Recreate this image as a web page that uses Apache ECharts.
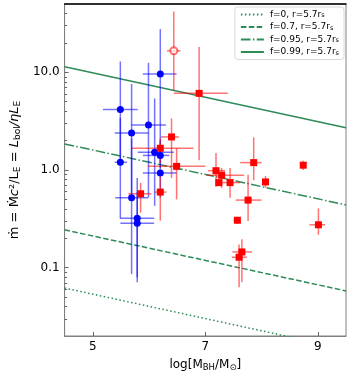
<!DOCTYPE html>
<html>
<head>
<meta charset="utf-8">
<script src="https://cdn.jsdelivr.net/npm/echarts@6/dist/echarts.min.js"></script>
<style>
  html, body { margin: 0; padding: 0; background: #fff; }
  #chart { width: 351px; height: 377px; }
</style>
</head>
<body>
<div id="chart"></div>
<script>
// axis ticks
const xTicks = [5, 7, 9]
const yTicks = [0.1, 1, 10]
const yMinorTicks = [0.03, 0.04, 0.05, 0.06, 0.07, 0.08, 0.09,
  0.2, 0.3, 0.4, 0.5, 0.6, 0.7, 0.8, 0.9,
  2, 3, 4, 5, 6, 7, 8, 9, 20, 30, 40]

// model lines (endpoints at log M = 4.5 and 9.5)
const lineX = [4.5, 9.5]
const lineF0 = [0.0619, 0.0147]
const lineF07 = [0.244, 0.0579]
const lineF095 = [1.85, 0.439]
const lineF099 = [11.38, 2.70]

// blue circles
const blueX = [5.49, 5.69, 5.99, 6.20, 6.10, 6.20, 5.49, 6.20, 5.69, 5.79, 5.79]
const blueY = [4.16, 2.39, 2.88, 9.59, 1.52, 1.41, 1.20, 0.93, 0.52, 0.32, 0.285]
const blueXlo = [5.18, 5.39, 5.69, 5.89, 5.80, 5.89, 5.39, 5.89, 5.40, 5.49, 5.49]
const blueXhi = [5.80, 5.99, 6.30, 6.49, 6.44, 6.36, 5.61, 6.49, 5.98, 6.09, 6.09]
const blueYlo = [1.21, 0.52, 0.52, 1.32, 0.43, 1.05, 0.318, 0.52, 0.086, 0.08, 0.071]
const blueYhi = [12.9, 7.6, 12.5, 27.7, 5.4, 2.0, 3.4, 1.6, 2.1, 0.83, 0.6]

// red squares
const redX = [6.89, 6.40, 6.20, 6.49, 5.85, 6.20, 7.19, 7.29, 7.24, 7.44, 7.86, 8.07, 7.76, 7.57, 8.74, 9.01, 7.65, 7.60]
const redY = [6.09, 2.18, 1.67, 1.09, 0.571, 0.594, 0.984, 0.884, 0.743, 0.743, 1.19, 0.755, 0.492, 0.306, 1.12, 0.275, 0.145, 0.128]
const redXlo = [6.44, 6.21, 5.69, 5.98, 5.63, 6.10, 7.05, 7.02, 7.18, 7.22, 7.62, 8.03, 7.54, 7.50, 8.70, 8.85, 7.48, 7.47]
const redXhi = [7.40, 6.53, 6.79, 7.00, 6.04, 6.31, 7.35, 7.69, 7.30, 7.62, 8.00, 8.11, 8.00, 7.62, 8.78, 9.13, 7.83, 7.74]
const redYlo = [1.26, 0.83, 1.18, 0.50, 0.366, 0.303, 0.672, 0.656, 0.70, 0.52, 0.786, 0.66, 0.301, 0.28, 1.0, 0.217, 0.071, 0.063]
const redYhi = [18.1, 3.37, 2.11, 1.67, 0.74, 0.85, 1.49, 1.05, 0.80, 1.05, 2.16, 0.87, 0.896, 0.33, 1.24, 0.405, 0.195, 0.173]

// red open circle
const openX = [6.44]
const openY = [16.6]
const openXlo = [6.32]
const openXhi = [6.56]
const openYlo = [6.5]
const openYhi = [42]

const green = '#2e8b57'
const font = 'DejaVu Sans'

const rows = (x, y, xlo, xhi, ylo, yhi) => x.map((v, i) => [v, y[i], xlo[i], xhi[i], ylo[i], yhi[i]])
const pts = (x, y) => x.map((v, i) => [v, y[i]])

const errBars = (color) => (params, api) => {
  const x = api.value(0)
  const y = api.value(1)
  const a = api.coord([api.value(2), y])
  const b = api.coord([api.value(3), y])
  const c = api.coord([x, api.value(4)])
  const d = api.coord([x, api.value(5)])
  const style = { stroke: color, lineWidth: 1.5 }
  return {
    type: 'group',
    children: [
      { type: 'line', shape: { x1: a[0], y1: a[1], x2: b[0], y2: b[1] }, style },
      { type: 'line', shape: { x1: c[0], y1: c[1], x2: d[0], y2: d[1] }, style },
    ],
  }
}

const modelLine = (name, ys, dash) => ({
  name,
  type: 'line',
  data: pts(lineX, ys),
  showSymbol: false,
  symbol: 'none',
  clip: true,
  lineStyle: { color: green, width: 1.5, type: dash },
  itemStyle: { color: green },
  z: 3,
})

const myChart = echarts.init(document.getElementById('chart'), null, { renderer: 'canvas' })

const option = {
  animation: false,
  backgroundColor: '#fff',
  textStyle: { fontFamily: font },
  grid: {
    left: 57, right: 5, top: 4, bottom: 36,
    show: true, borderColor: '#808080', borderWidth: 1,
  },
  legend: {
    data: ['f=0, r=5.7rs', 'f=0.7, r=5.7rs', 'f=0.95, r=5.7rs', 'f=0.99, r=5.7rs'],
    orient: 'vertical',
    right: 7,
    top: 7,
    itemWidth: 23,
    itemHeight: 8,
    itemGap: 3.5,
    padding: [3, 5, 3, 5],
    borderColor: '#d8d8d8',
    borderWidth: 1,
    borderRadius: 3,
    backgroundColor: 'rgba(255,255,255,0.8)',
    itemStyle: { opacity: 0 },
    formatter: (name) => name.replace(/rs$/, 'r{sub|s}'),
    textStyle: {
      fontFamily: font, fontSize: 9, color: '#000', padding: [0, 0, 0, 1],
      rich: {
        sub: { fontFamily: font, fontSize: 6.5, verticalAlign: 'bottom', lineHeight: 6 },
      },
    },
  },
  xAxis: [
    {
      type: 'value', min: 4.5, max: 9.5,
      axisLine: { lineStyle: { color: '#808080', width: 1 } },
      axisTick: { inside: true, length: 4, customValues: xTicks, lineStyle: { color: '#666' } },
      axisLabel: { customValues: xTicks, color: '#000', fontSize: 12, fontFamily: font, margin: 5 },
      splitLine: { show: false },
      name: '{t|log[M}{s|BH}{t|/M}{s|⊙}{t|]}',
      nameLocation: 'middle',
      nameGap: 22,
      nameTextStyle: {
        rich: {
          t: { fontFamily: font, fontSize: 12, color: '#000', lineHeight: 14 },
          s: { fontFamily: font, fontSize: 8.5, color: '#000', verticalAlign: 'bottom', lineHeight: 8 },
        },
      },
    },
    {
      type: 'value', min: 4.5, max: 9.5, position: 'top',
      axisLine: { lineStyle: { color: '#000', width: 1.5 } },
      axisTick: { show: false },
      axisLabel: { show: false },
      splitLine: { show: false },
    },
  ],
  yAxis: [
    {
      type: 'log', logBase: 10, min: 0.02, max: 50,
      axisLine: { show: true, lineStyle: { color: '#808080', width: 1 } },
      axisTick: { inside: true, length: 4, customValues: yTicks, lineStyle: { color: '#666' } },
      axisLabel: {
        customValues: yTicks, color: '#000', fontSize: 12, fontFamily: font, margin: 5,
        formatter: (v) => Number(v).toFixed(1),
      },
      splitLine: { show: false },
      minorTick: { show: false },
      name: '{t|ṁ = Ṁ}{i|c}{t|²/L}{s|E}{t| = }{i|L}{s|bol}{i|/ηL}{s|E}',
      nameLocation: 'middle',
      nameRotate: 90,
      nameGap: 30,
      nameTextStyle: {
        rich: {
          t: { fontFamily: font, fontSize: 13, color: '#000', lineHeight: 15 },
          i: { fontFamily: font, fontSize: 13, fontStyle: 'italic', color: '#000', lineHeight: 15 },
          s: { fontFamily: font, fontSize: 9, color: '#000', verticalAlign: 'bottom', lineHeight: 9 },
        },
      },
    },
    {
      type: 'log', logBase: 10, min: 0.02, max: 50, position: 'left',
      axisLine: { show: false },
      axisTick: { inside: true, length: 2.5, customValues: yMinorTicks, lineStyle: { color: '#666' } },
      axisLabel: { show: false },
      splitLine: { show: false },
    },
  ],
  series: [
    modelLine('f=0, r=5.7rs', lineF0, [1.5, 2.5]),
    modelLine('f=0.7, r=5.7rs', lineF07, [5.5, 2.4]),
    modelLine('f=0.95, r=5.7rs', lineF095, [9.6, 2.4, 1.5, 2.4]),
    modelLine('f=0.99, r=5.7rs', lineF099, 'solid'),
    {
      type: 'custom',
      renderItem: errBars('rgba(0,0,255,0.55)'),
      data: rows(blueX, blueY, blueXlo, blueXhi, blueYlo, blueYhi),
      encode: { x: 0, y: 1 },
      clip: true,
      z: 4,
    },
    {
      type: 'custom',
      renderItem: errBars('rgba(255,0,0,0.55)'),
      data: rows(redX, redY, redXlo, redXhi, redYlo, redYhi),
      encode: { x: 0, y: 1 },
      clip: true,
      z: 4,
    },
    {
      type: 'custom',
      renderItem: errBars('rgba(255,0,0,0.55)'),
      data: rows(openX, openY, openXlo, openXhi, openYlo, openYhi),
      encode: { x: 0, y: 1 },
      clip: true,
      z: 4,
    },
    {
      type: 'scatter',
      data: pts(blueX, blueY),
      symbol: 'circle',
      symbolSize: 7,
      itemStyle: { color: '#0000ff', opacity: 1 },
      z: 5,
    },
    {
      type: 'scatter',
      data: pts(redX, redY),
      symbol: 'rect',
      symbolSize: 7,
      itemStyle: { color: '#ff0000', opacity: 1 },
      z: 5,
    },
    {
      type: 'scatter',
      data: pts(openX, openY),
      symbol: 'emptyCircle',
      symbolSize: 7,
      itemStyle: { color: 'rgba(255,0,0,0.7)', borderColor: 'rgba(255,0,0,0.7)', borderWidth: 1 },
      z: 5,
    },
  ],
}

myChart.setOption(option)
</script>
</body>
</html>
